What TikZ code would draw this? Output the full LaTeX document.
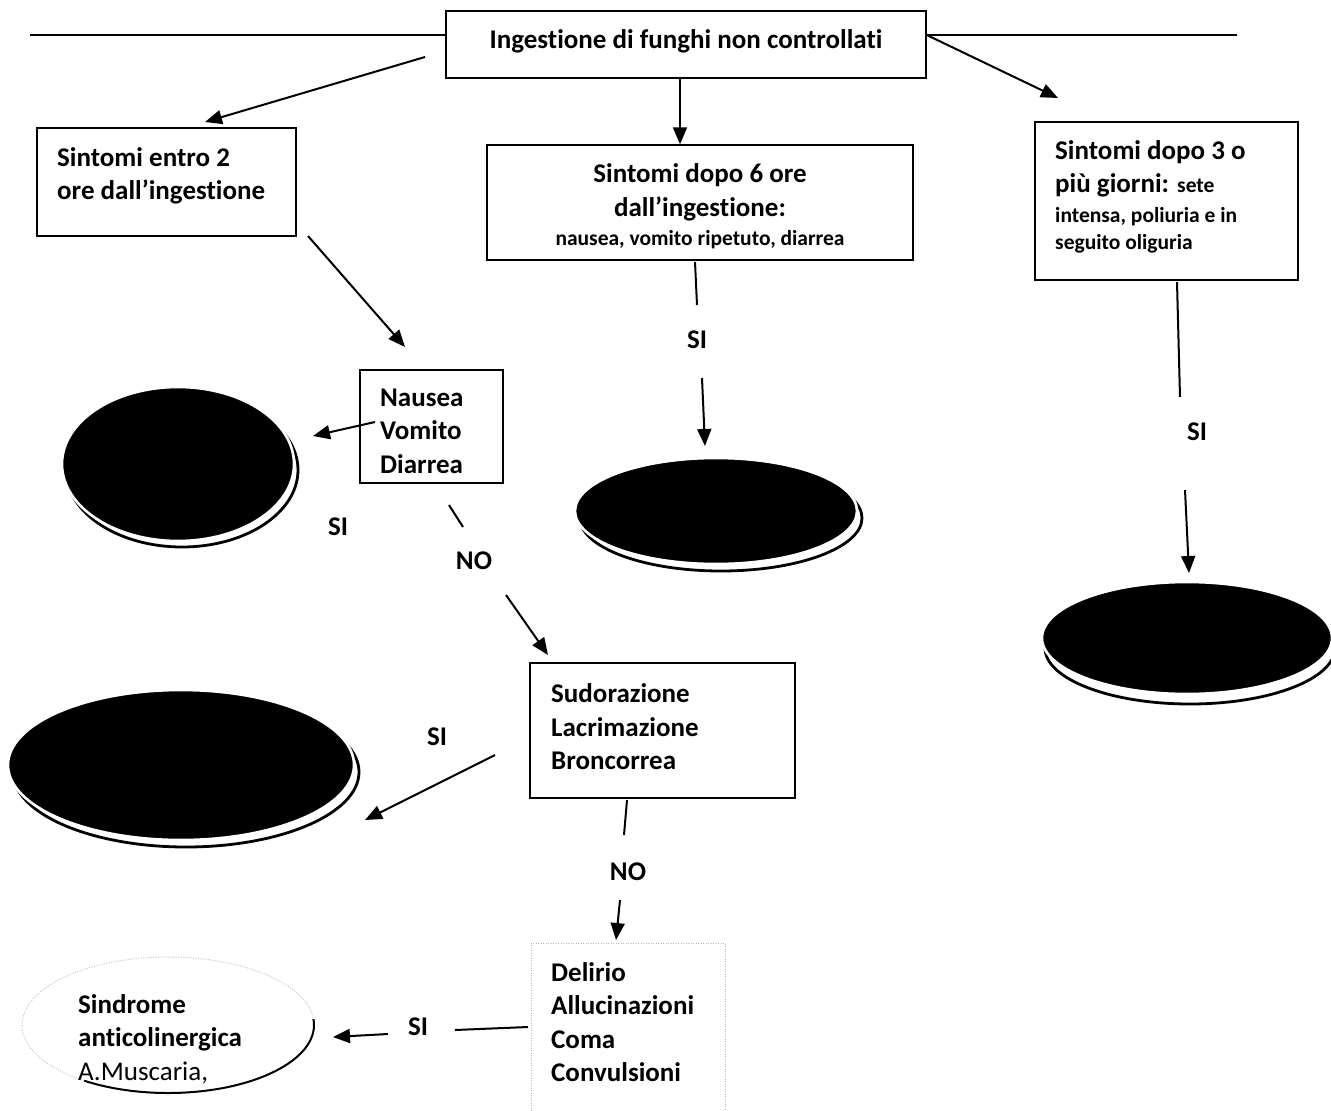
\documentclass[tikz,border=0pt]{standalone}
\usepackage{fontspec}
\setmainfont{Carlito}[Ligatures={NoCommon}]
\usetikzlibrary{arrows.meta,shapes.geometric,calc}
\begin{document}
\begin{tikzpicture}[x=1pt,y=-1pt,
 box/.style={draw, line width=1.5pt, inner sep=0pt},
 txt/.style={inner sep=0pt, align=left, font=\fontsize{27}{33.5}\selectfont\bfseries},
 lbl/.style={inner sep=0pt, font=\fontsize{27}{33}\selectfont\bfseries},
 sm/.style={inner sep=0pt, font=\fontsize{21.5}{26}\selectfont\bfseries},
 ln/.style={line width=2pt},
 arr/.style={line width=2pt, -{Triangle[length=17pt,width=14pt]}},
 blob/.style={ellipse, fill=black, draw=white, line width=2.6pt, inner sep=0pt},
 shade/.style={line width=2.8pt},
]
\useasboundingbox[fill=white] (0,0) rectangle (1331,1111);

% ---------- boxes ----------
\node[box, minimum width=480pt, minimum height=67pt] (top) at (686,44.5) {};
\node[box, minimum width=259pt, minimum height=108pt] (b1) at (166.5,182) {};
\node[box, minimum width=426pt, minimum height=115pt] (b2) at (700,202.5) {};
\node[box, minimum width=263pt, minimum height=158pt] (b3) at (1166.5,201) {};
\node[box, minimum width=143pt, minimum height=113pt] (nau) at (431.5,426.5) {};
\node[box, minimum width=265pt, minimum height=135pt] (sud) at (662.5,730.5) {};
\node[draw=gray!55, line width=1pt, dash pattern=on 1pt off 1.5pt, inner sep=0pt,
      minimum width=194pt, minimum height=180pt] (del) at (628,1033) {};

% ---------- texts ----------
\node[lbl] (ttop) at (686,41) {Ingestione di funghi non controllati};
\node[txt, anchor=west] (t1) at (57,176) {Sintomi entro 2\\ore dall’ingestione};
\node[lbl, anchor=base] (t2a) at (700,182) {Sintomi dopo 6 ore};
\node[lbl, anchor=base] (t2b) at (700,216) {dall’ingestione:};
\node[sm, anchor=base] (t2c) at (700,245) {nausea, vomito ripetuto, diarrea};
\node[lbl, anchor=base west] (t3a) at (1055,159) {Sintomi dopo 3 o};
\node[lbl, anchor=base west] (t3b) at (1055,192) {più giorni: {\fontsize{21.5}{26}\selectfont sete}};
\node[sm, anchor=base west] (t3c) at (1055,222) {intensa, poliuria e in};
\node[sm, anchor=base west] (t3d) at (1055,249) {seguito oliguria};
\node[txt, anchor=west] (tn) at (380,431) {Nausea\\Vomito\\Diarrea};
\node[txt, anchor=west] (ts) at (551,727) {Sudorazione\\Lacrimazione\\Broncorrea};
\node[txt, anchor=west] (td) at (551,1022) {Delirio\\Allucinazioni\\Coma\\Convulsioni};

% ---------- black discs ----------
\draw[shade] (182,470) ellipse [x radius=116, y radius=77];
\node[blob, minimum width=232pt, minimum height=154pt] (e1) at (178,464) {};
\draw[shade] (721,518) ellipse [x radius=141, y radius=53];
\node[blob, minimum width=282pt, minimum height=106pt] (e2) at (716,511) {};
\draw[shade] (1190,648) ellipse [x radius=145, y radius=56];
\node[blob, minimum width=290pt, minimum height=112pt] (e3) at (1187,638) {};
\draw[shade] (186,772) ellipse [x radius=173, y radius=75];
\node[blob, minimum width=346pt, minimum height=150pt] (e4) at (181,765) {};

% ---------- light ellipse ----------
\node[ellipse, draw=gray!45, line width=1pt, dash pattern=on 1pt off 1.5pt, inner sep=0pt,
      minimum width=292pt, minimum height=136pt] (e5) at (168,1025) {};
\draw[line width=2pt] ($(e5.center)+({146*cos(-5)},{68*sin(-5)})$)
   arc[start angle=-5, end angle=125, x radius=146, y radius=68];
\node[txt, anchor=west] (t5) at (78,1039) {Sindrome\\anticolinergica\\{\mdseries A.Muscaria,}};

% ---------- labels ----------
\node[lbl] (si1) at (338,527) {SI};
\node[lbl] (no1) at (474,561) {NO};
\node[lbl] (si2) at (697,340) {SI};
\node[lbl] (si3) at (1197,432) {SI};
\node[lbl] (si4) at (437,737) {SI};
\node[lbl] (no2) at (628,872) {NO};
\node[lbl] (si5) at (418,1027) {SI};

% ---------- connectors ----------
\coordinate (hl) at (30,35);
\coordinate (hr) at (1237,35);
\draw[ln] (hl) -- (hl -| top.west);
\draw[ln] (hr -| top.east) -- (hr);
\coordinate (a1s) at (425,57); \coordinate (a1e) at (205,122);
\draw[arr] (a1s) -- (a1e);
\coordinate (a2x) at (680,0);
\draw[arr] (top.south -| a2x) -- (b2.north -| a2x);
\coordinate (a3e) at (1058,98);
\draw[arr] (hr -| top.east) -- (a3e);

\coordinate (a4s) at (308,236); \coordinate (a4e) at (405,347);
\draw[arr] (a4s) -- (a4e);
\coordinate (a5s) at (375,422); \coordinate (a5e) at (313,436);
\draw[arr] (a5s) -- (a5e);

\coordinate (a6s) at (449,505); \coordinate (a6e) at (463,527);
\draw[ln] (a6s) -- (a6e);
\coordinate (a7s) at (506,595); \coordinate (a7e) at (548,655);
\draw[arr] (a7s) -- (a7e);

\coordinate (a8s) at (695,262); \coordinate (a8e) at (697,305);
\draw[ln] (a8s) -- (a8e);
\coordinate (a9s) at (702,378); \coordinate (a9e) at (705,446);
\draw[arr] (a9s) -- (a9e);

\coordinate (a10s) at (1177,282); \coordinate (a10e) at (1180,397);
\draw[ln] (a10s) -- (a10e);
\coordinate (a11s) at (1185,490); \coordinate (a11e) at (1189,573);
\draw[arr] (a11s) -- (a11e);

\coordinate (a12s) at (495,755); \coordinate (a12e) at (365,820);
\draw[arr] (a12s) -- (a12e);

\coordinate (a13s) at (627,800); \coordinate (a13e) at (624,835);
\draw[ln] (a13s) -- (a13e);
\coordinate (a14s) at (620,900); \coordinate (a14e) at (616,940);
\draw[arr] (a14s) -- (a14e);

\coordinate (a15s) at (528,1027); \coordinate (a15e) at (455,1030);
\draw[ln] (a15s) -- (a15e);
\coordinate (a16s) at (388,1034); \coordinate (a16e) at (333,1037);
\draw[arr] (a16s) -- (a16e);
\end{tikzpicture}
\end{document}
